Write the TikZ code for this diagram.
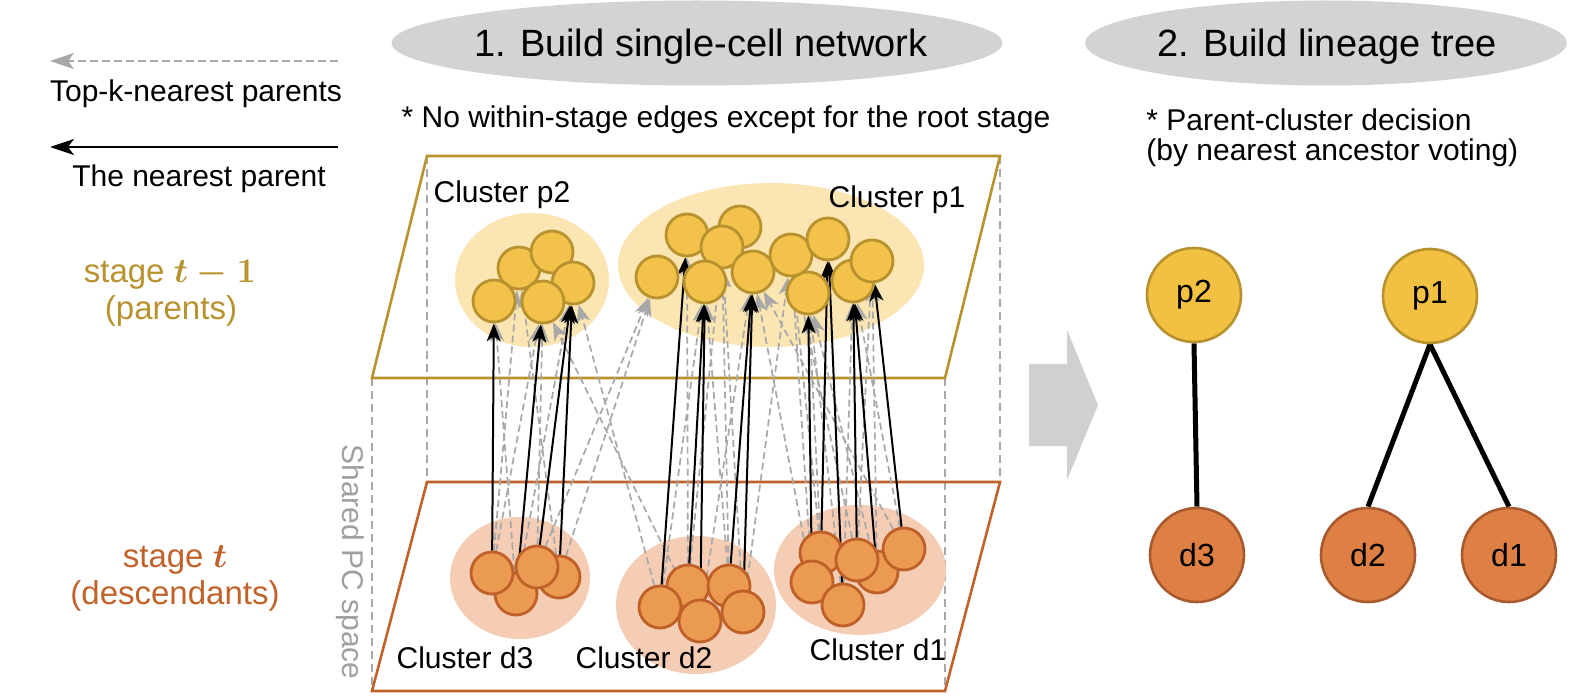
\documentclass[tikz,border=0pt]{standalone}
\usepackage{fontspec}
\setmainfont{Liberation Sans}
\usetikzlibrary{arrows.meta,shapes.geometric}
\definecolor{goldline}{RGB}{184,146,46}
\definecolor{goldfill}{RGB}{242,194,74}
\definecolor{goldhalo}{RGB}{251,229,178}
\definecolor{orline}{RGB}{190,96,40}
\definecolor{orplane}{RGB}{192,98,42}
\definecolor{orfill}{RGB}{235,154,82}
\definecolor{orhalo}{RGB}{244,205,180}
\definecolor{titlegray}{RGB}{211,211,211}
\definecolor{arrowgray}{RGB}{208,208,208}
\definecolor{edgegray}{RGB}{168,168,168}
\definecolor{pcgray}{RGB}{160,160,160}
\definecolor{treep}{RGB}{243,193,65}
\definecolor{treed}{RGB}{222,128,67}
\definecolor{treedline}{RGB}{168,90,46}
\pgfdeclarelayer{bg}
\pgfdeclarelayer{edgelayer}
\pgfsetlayers{bg,edgelayer,main}
\begin{document}
\begin{tikzpicture}[x=0.5pt,y=-0.5pt,
  pcell/.style={circle,draw=goldline,fill=goldfill,line width=1.4pt,minimum size=21pt,inner sep=0pt},
  dcell/.style={circle,draw=orline,fill=orfill,line width=1.4pt,minimum size=21pt,inner sep=0pt},
  halo/.style={ellipse,fill=#1,draw=none,inner sep=0pt},
  nearest/.style={-{Stealth[length=9pt,width=7pt,inset=2.5pt]},line width=1pt,draw=black},
  topk/.style={-{Stealth[length=9pt,width=7pt,inset=2.5pt]},line width=0.85pt,draw=edgegray,dash pattern=on 3.5pt off 2pt},
  boxline/.style={draw=edgegray,line width=0.8pt,dash pattern=on 4pt off 2.5pt},
  titlebox/.style={ellipse,fill=titlegray,draw=none,inner sep=0pt},
  ttl/.style={font=\fontsize{19}{23}\selectfont,inner sep=0pt,anchor=base},
  txt/.style={font=\fontsize{15}{18}\selectfont,inner sep=0pt,anchor=base},
  stg/.style={font=\fontsize{16.5}{20}\selectfont,inner sep=0pt,anchor=base},
  tp/.style={circle,fill=treep,draw=goldline,line width=1.3pt,minimum size=47pt,inner sep=0pt,font=\fontsize{16}{19}\selectfont},
  td/.style={circle,fill=treed,draw=treedline,line width=1.3pt,minimum size=47pt,inner sep=0pt,font=\fontsize{16}{19}\selectfont},
  treeedge/.style={line width=2.5pt,draw=black}
]
\useasboundingbox (0,0) rectangle (1570,700);
\begin{pgfonlayer}{bg}
\fill[white] (0,0) rectangle (1570,700);
\end{pgfonlayer}

% titles
\node[titlebox,minimum width=305.5pt,minimum height=42.5pt] (t1box) at (697,43) {};
\node[ttl] (t1) at (701,57) {1. Build single-cell network};
\node[titlebox,minimum width=241pt,minimum height=42.5pt] (t2box) at (1326,43) {};
\node[ttl] (t2) at (1327,57) {2. Build lineage tree};
\node[txt] (n1) at (726,128) {* No within-stage edges except for the root stage};
\node[txt,anchor=base west] (n2) at (1146,131) {* Parent-cluster decision};
\node[txt,anchor=base west] (n3) at (1146,161) {(by nearest ancestor voting)};

% legend
\coordinate (lg1s) at (338,61);
\coordinate (lg1e) at (50,61);
\coordinate (lg2s) at (338,147);
\coordinate (lg2e) at (50,147);
\draw[-{Stealth[length=12pt,width=8pt,inset=3pt]},draw=edgegray,line width=0.8pt,dash pattern=on 4pt off 2pt] (lg1s) -- (lg1e);
\draw[-{Stealth[length=12pt,width=8pt,inset=3pt]},draw=black,line width=1pt] (lg2s) -- (lg2e);
\node[txt] (lt1) at (196,102) {Top-k-nearest parents};
\node[txt] (lt2) at (199,187) {The nearest parent};

% stage labels
\node[stg,text=goldline] (s1) at (170,283) {stage {\boldmath$t-1$}};
\node[stg,text=goldline] (s1b) at (171,320) {(parents)};
\node[stg,text=orplane] (s2) at (175,567) {stage {\boldmath$t$}};
\node[stg,text=orplane] (s2b) at (175,604) {(descendants)};
\node[txt,text=pcgray,rotate=-90,anchor=center] (pcs) at (350,562) {Shared PC space};

% box and planes
\begin{pgfonlayer}{bg}
\draw[boxline] (372,378) -- (372,691);
\draw[boxline] (427,156) -- (427,482);
\draw[boxline] (945,378) -- (945,691);
\draw[boxline] (1000,156) -- (1000,482);
\draw[goldline,line width=1.3pt,line join=miter] (427,156) -- (1000,156) -- (945,378) -- (372,378) -- cycle;
\draw[orplane,line width=1.3pt,line join=miter] (427,482) -- (1000,482) -- (945,691) -- (372,691) -- cycle;
\node[halo=goldhalo,minimum width=77pt,minimum height=67pt] (cp2) at (532,280) {};
\node[halo=goldhalo,minimum width=153pt,minimum height=82pt] (cp1) at (771,265) {};
\node[halo=orhalo,minimum width=70pt,minimum height=61pt] (cd3) at (520,578) {};
\node[halo=orhalo,minimum width=80pt,minimum height=69pt] (cd2) at (696,605) {};
\node[halo=orhalo,minimum width=86pt,minimum height=65pt] (cd1) at (860,570) {};
\end{pgfonlayer}

% cluster labels
\node[txt] (lp2) at (502,203) {Cluster p2};
\node[txt] (lp1) at (897,208) {Cluster p1};
\node[txt] (ld3) at (465,668) {Cluster d3};
\node[txt] (ld2) at (644,668) {Cluster d2};
\node[txt] (ld1) at (878,660) {Cluster d1};

% parent cells: cluster p2
\node[pcell] (p2b) at (519,268) {};
\node[pcell] (p2c) at (552,252) {};
\node[pcell] (p2d) at (573,283) {};
\node[pcell] (p2a) at (494,301) {};
\node[pcell] (p2e) at (543,302) {};
% cluster p1
\node[pcell] (pc) at (740,227) {};
\node[pcell] (pb) at (687,235) {};
\node[pcell] (pd) at (722,247) {};
\node[pcell] (pe) at (705,282) {};
\node[pcell] (pf) at (753,272) {};
\node[pcell] (pa) at (657,277) {};
\node[pcell] (pi) at (808,293) {};
\node[pcell] (pg) at (791,255) {};
\node[pcell] (ph) at (828,239) {};
\node[pcell] (pj) at (853,281) {};
\node[pcell] (pk) at (872,261) {};

% descendant cells: d3
\node[dcell] (qd) at (559,577) {};
\node[dcell] (qb) at (516,594) {};
\node[dcell] (qa) at (492,573) {};
\node[dcell] (qc) at (537,567) {};
% d2
\node[dcell] (rb) at (688,586) {};
\node[dcell] (rc) at (729,586) {};
\node[dcell] (ra) at (660,607) {};
\node[dcell] (rd) at (700,621) {};
\node[dcell] (re) at (743,612) {};
% d1
\node[dcell] (sa) at (821,553) {};
\node[dcell] (sb) at (812,582) {};
\node[dcell] (sc) at (877,572) {};
\node[dcell] (sd) at (857,560) {};
\node[dcell] (se) at (904,549) {};
\node[dcell] (sf) at (843,605) {};

\begin{pgfonlayer}{edgelayer}
% top-k (gray dashed)
\draw[topk] (qa) -- (p2b);
\draw[topk] (qa) -- (p2e);
\draw[topk] (qb) -- (p2a);
\draw[topk] (qb) -- (p2d);
\draw[topk] (qc) -- (p2e);
\draw[topk] (qc) -- (pa);
\draw[topk] (qd) -- (p2b);
\draw[topk] (qd) -- (pa);
\draw[topk] (ra) -- (p2d);
\draw[topk] (ra) -- (pe);
\draw[topk] (rb) -- (pb);
\draw[topk] (rb) -- (pd);
\draw[topk] (rc) -- (pd);
\draw[topk] (rc) -- (pe);
\draw[topk] (rd) -- (p2e);
\draw[topk] (rd) -- (pf);
\draw[topk] (re) -- (pd);
\draw[topk] (re) -- (pg);
\draw[topk] (sa) -- (pg);
\draw[topk] (sa) -- (pi);
\draw[topk] (sb) -- (pg);
\draw[topk] (sb) -- (pf);
\draw[topk] (sc) -- (pk);
\draw[topk] (sc) -- (pi);
\draw[topk] (sd) -- (pg);
\draw[topk] (sd) -- (pk);
\draw[topk] (se) -- (pj);
\draw[topk] (se) -- (pf);
\draw[topk] (sf) -- (pj);
\draw[topk] (sf) -- (pi);
% nearest (black)
\draw[nearest] (qa) -- (p2a);
\draw[nearest] (qb) -- (p2e);
\draw[nearest] (qc) -- (p2d);
\draw[nearest] (qd) -- (p2d);
\draw[nearest] (ra) -- (pb);
\draw[nearest] (rb) -- (pe);
\draw[nearest] (rd) -- (pe);
\draw[nearest] (rc) -- (pf);
\draw[nearest] (re) -- (pf);
\draw[nearest] (sb) -- (pi);
\draw[nearest] (sa) -- (ph);
\draw[nearest] (sf) -- (ph);
\draw[nearest] (sd) -- (pj);
\draw[nearest] (sc) -- (pj);
\draw[nearest] (se) -- (pk);
\end{pgfonlayer}

% big arrow
\fill[arrowgray] (1029,364) -- (1067,364) -- (1067,330) -- (1098,405) -- (1067,480) -- (1067,446) -- (1029,446) -- cycle;

% lineage tree
\node[tp] (tp2) at (1194,295) {p2};
\node[tp] (tp1) at (1430,296) {p1};
\node[td] (td3) at (1197,555) {d3};
\node[td] (td2) at (1368,555) {d2};
\node[td] (td1) at (1509,555) {d1};
\begin{pgfonlayer}{edgelayer}
\draw[treeedge] (tp2.south) -- (td3.north);
\draw[treeedge] (tp1.south) -- (td2.north);
\draw[treeedge] (tp1.south) -- (td1.north);
\end{pgfonlayer}
\end{tikzpicture}
\end{document}
